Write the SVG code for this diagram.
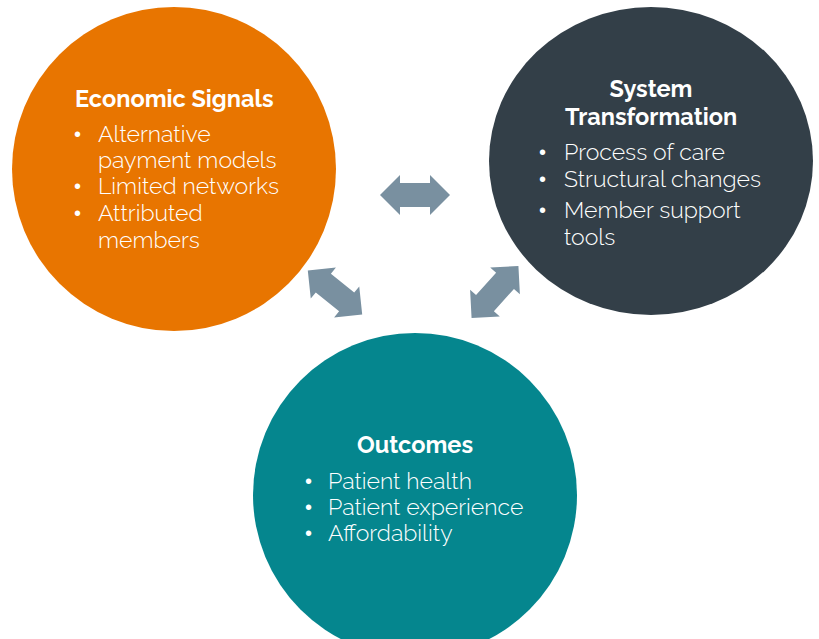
<svg xmlns="http://www.w3.org/2000/svg" width="819" height="639" viewBox="0 0 819 639">
<defs>
<style>
.h{font-family:Raleway,Lato,"Open Sans","Liberation Sans",sans-serif;font-weight:bold;font-size:23.5px;fill:#fff}
.t{font-family:Raleway,Lato,"Open Sans","Liberation Sans",sans-serif;font-weight:300;font-size:23px;fill:#fff}
.b{font-family:"Liberation Sans",Arial,sans-serif;font-size:20px;fill:#fff}
.arr{fill:#7990A0}
</style>
<path id="dbl" d="M-35,0 L-15,-20 L-15,-12 L15,-12 L15,-20 L35,0 L15,20 L15,12 L-15,12 L-15,20 Z"/>
</defs>
<rect width="819" height="639" fill="#fff"/>
<g id="connectors" class="arr">
<use href="#dbl" transform="translate(415,195)"/>
<use href="#dbl" transform="translate(335,292.5) rotate(39)"/>
<use href="#dbl" transform="translate(495,292) rotate(-48)"/>
</g>
<g id="economic">
<circle cx="174" cy="169" r="162" fill="#E87500"/>
<text class="h" x="75" y="107">Economic Signals</text>
<text class="b" x="74" y="141">•</text><text class="t" x="98" y="142">Alternative</text>
<text class="t" x="98" y="168">payment models</text>
<text class="b" x="74" y="193">•</text><text class="t" x="98" y="194">Limited networks</text>
<text class="b" x="74" y="220">•</text><text class="t" x="98" y="221">Attributed</text>
<text class="t" x="98" y="248">members</text>
</g>
<g id="system">
<ellipse cx="651" cy="161" rx="162" ry="154" fill="#333F48"/>
<text class="h" x="651" y="97" text-anchor="middle">System</text>
<text class="h" x="651" y="125" text-anchor="middle">Transformation</text>
<text class="b" x="539" y="159">•</text><text class="t" x="564" y="160">Process of care</text>
<text class="b" x="539" y="186">•</text><text class="t" x="564" y="187">Structural changes</text>
<text class="b" x="539" y="217">•</text><text class="t" x="564" y="218">Member support</text>
<text class="t" x="564" y="245">tools</text>
</g>
<g id="outcomes">
<circle cx="415" cy="495" r="162" fill="#05868E"/>
<text class="h" x="415" y="453" text-anchor="middle">Outcomes</text>
<text class="b" x="305" y="488">•</text><text class="t" x="328" y="489">Patient health</text>
<text class="b" x="305" y="514">•</text><text class="t" x="328" y="515">Patient experience</text>
<text class="b" x="305" y="540">•</text><text class="t" x="328" y="541">Affordability</text>
</g>
</svg>
